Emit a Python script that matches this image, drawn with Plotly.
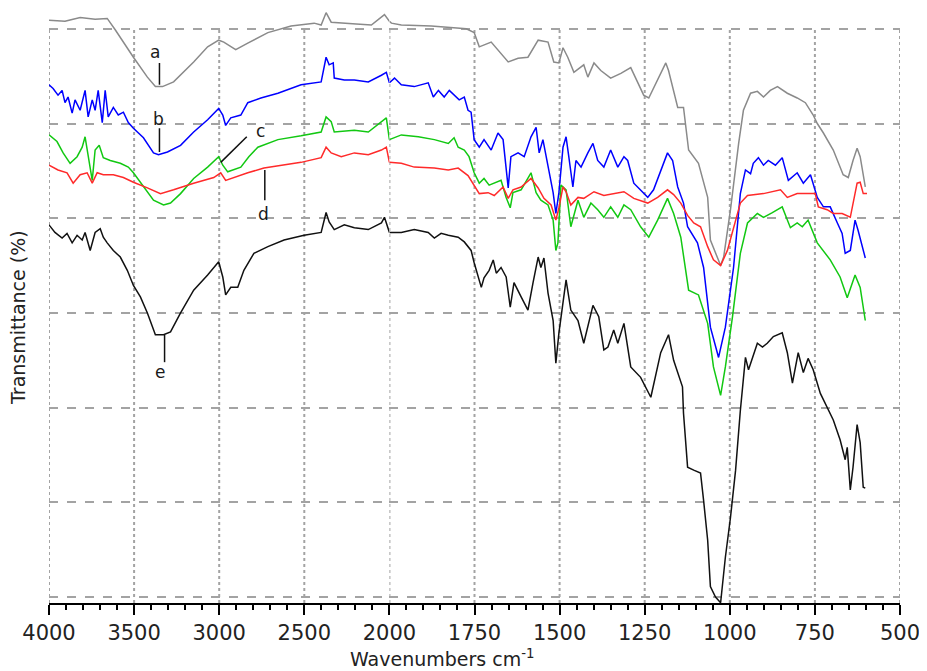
import plotly.graph_objects as go

# ---------------- data (wavenumber cm-1, transmittance in arbitrary % units) ----------------
wn_a = [4000, 3906, 3817, 3729, 3658, 3611, 3504, 3422, 3375, 3333, 3268, 3150, 3068, 3003, 2973, 2903,
        2832, 2714, 2578, 2442, 2401, 2372, 2342, 2283, 2195, 2106, 2029, 2000, 1994, 1965, 1877, 1774,
        1751, 1736, 1701, 1651, 1622, 1593, 1563, 1534, 1517, 1502, 1490, 1476, 1458, 1429, 1417, 1399,
        1379, 1350, 1320, 1291, 1253, 1238, 1209, 1188, 1180, 1153, 1136, 1121, 1092, 1065, 1057, 1036,
        1027, 1018, 998, 974, 960, 939, 919, 901, 881, 860, 831, 802, 778, 755, 743, 725, 696, 667, 652,
        638, 626, 617, 602]
t_a = [60.9, 60.8, 61.2, 61.0, 61.1, 59.9, 57.0, 54.9, 53.9, 53.9, 54.4, 56.5, 58.1, 58.8, 58.6, 57.8,
       58.5, 59.6, 60.3, 60.6, 60.4, 61.7, 60.7, 60.6, 60.5, 60.4, 61.5, 60.8, 60.6, 60.4, 60.3, 60.0,
       59.6, 58.1, 58.6, 56.5, 56.9, 57.0, 58.8, 58.6, 56.5, 56.4, 58.0, 57.0, 55.4, 56.2, 54.9, 56.4,
       55.6, 54.8, 55.3, 55.9, 53.0, 52.7, 54.9, 56.4, 55.6, 51.7, 51.7, 47.2, 45.8, 42.2, 37.7, 35.9,
       35.0, 35.9, 40.9, 47.9, 51.4, 53.2, 53.4, 52.8, 53.5, 53.9, 53.2, 52.7, 52.2, 50.9, 50.0, 49.0,
       47.2, 44.6, 44.3, 46.1, 47.4, 46.5, 43.3]

wn_b = [4000, 3976, 3947, 3923, 3906, 3888, 3864, 3847, 3817, 3788, 3770, 3746, 3729, 3711, 3687, 3670,
        3652, 3622, 3593, 3563, 3534, 3504, 3445, 3386, 3357, 3304, 3227, 3150, 3068, 3003, 2979, 2962,
        2932, 2873, 2832, 2755, 2655, 2519, 2401, 2383, 2372, 2354, 2330, 2324, 2265, 2206, 2124, 2047,
        2018, 2000, 1985, 1965, 1927, 1886, 1871, 1856, 1839, 1824, 1810, 1795, 1780, 1769, 1760, 1751,
        1736, 1722, 1701, 1681, 1666, 1651, 1643, 1622, 1604, 1584, 1569, 1560, 1549, 1534, 1519, 1511,
        1502, 1490, 1481, 1473, 1461, 1452, 1437, 1417, 1402, 1388, 1370, 1350, 1329, 1311, 1300, 1282,
        1241, 1224, 1183, 1168, 1153, 1136, 1124, 1095, 1077, 1057, 1033, 1013, 989, 969, 954, 939, 931,
        916, 901, 887, 866, 846, 828, 802, 784, 763, 743, 725, 705, 684, 670, 661, 646, 632, 623, 602]
t_b = [54.1, 53.7, 53.0, 53.5, 52.2, 52.8, 51.1, 52.5, 51.4, 53.5, 50.7, 52.5, 51.4, 53.5, 50.1, 53.5,
       50.7, 51.7, 50.9, 51.2, 50.1, 49.5, 48.5, 46.9, 46.7, 47.0, 47.7, 49.1, 50.4, 51.6, 50.9, 49.8,
       50.6, 50.9, 52.2, 52.7, 53.2, 54.1, 54.4, 55.9, 57.0, 56.2, 56.4, 54.8, 54.6, 54.6, 54.4, 55.1,
       55.4, 54.3, 54.8, 54.1, 53.9, 54.3, 52.8, 53.5, 52.8, 53.5, 53.0, 52.5, 52.8, 51.4, 51.2, 48.3,
       47.5, 48.3, 47.2, 49.0, 48.3, 43.2, 46.5, 46.9, 46.5, 48.6, 49.6, 46.9, 48.3, 45.4, 42.7, 40.5,
       42.7, 47.5, 48.6, 46.5, 43.3, 46.1, 45.4, 46.9, 47.9, 46.1, 45.4, 47.2, 45.4, 46.5, 46.1, 43.7,
       42.2, 43.0, 46.9, 46.1, 43.3, 41.6, 39.1, 37.4, 34.8, 28.5, 25.3, 28.5, 34.8, 42.6, 45.1, 44.7,
       45.8, 46.4, 45.6, 46.1, 45.6, 46.4, 44.0, 44.8, 43.7, 44.6, 42.2, 41.2, 41.2, 39.5, 38.4, 36.3,
       36.6, 39.8, 38.7, 35.8]

wn_c = [4000, 3953, 3917, 3876, 3835, 3805, 3788, 3770, 3746, 3729, 3705, 3681, 3640, 3581, 3534, 3504,
        3445, 3386, 3327, 3286, 3227, 3150, 3068, 3003, 2979, 2950, 2873, 2826, 2773, 2655, 2519, 2401,
        2372, 2342, 2324, 2206, 2124, 2047, 2018, 2000, 1965, 1915, 1868, 1827, 1810, 1798, 1780, 1766,
        1751, 1736, 1722, 1707, 1686, 1672, 1657, 1645, 1637, 1613, 1584, 1569, 1555, 1534, 1519, 1511,
        1505, 1496, 1481, 1467, 1446, 1429, 1408, 1388, 1370, 1350, 1329, 1311, 1291, 1262, 1238, 1212,
        1183, 1165, 1144, 1121, 1092, 1065, 1048, 1027, 1013, 992, 969, 948, 919, 901, 875, 846, 822,
        802, 787, 770, 743, 705, 676, 655, 632, 617, 602]
t_c = [48.8, 48.1, 46.9, 45.8, 46.5, 47.5, 48.6, 46.5, 44.0, 47.2, 47.7, 46.4, 46.1, 45.8, 45.4, 44.8,
       43.3, 41.9, 41.4, 41.6, 42.6, 44.2, 45.4, 46.5, 45.6, 44.9, 45.4, 46.5, 47.5, 48.3, 48.7, 49.1,
       50.7, 50.2, 49.1, 49.3, 49.1, 50.2, 50.6, 48.3, 48.8, 48.6, 48.3, 47.9, 48.5, 47.5, 47.2, 46.5,
       44.8, 43.7, 44.2, 43.5, 43.8, 44.0, 42.2, 41.1, 42.7, 43.0, 44.8, 42.7, 41.9, 41.4, 39.8, 36.6,
       37.4, 43.5, 43.0, 39.1, 41.9, 40.1, 41.6, 40.9, 40.1, 41.2, 40.1, 41.4, 40.9, 39.1, 38.0, 39.8,
       42.1, 40.5, 38.0, 32.4, 31.9, 28.9, 24.3, 21.3, 24.3, 29.6, 36.3, 39.5, 40.5, 40.1, 40.6, 41.2, 39.0,
       39.5, 39.1, 39.8, 37.4, 35.6, 33.8, 31.6, 34.0, 32.7, 29.2]

wn_d = [4000, 3947, 3894, 3858, 3817, 3776, 3746, 3717, 3681, 3622, 3563, 3504, 3422, 3345, 3268, 3150,
        3032, 2991, 2962, 2914, 2832, 2737, 2619, 2519, 2401, 2372, 2342, 2283, 2206, 2124, 2047, 2018,
        2000, 1965, 1927, 1868, 1827, 1798, 1769, 1751, 1736, 1710, 1692, 1666, 1651, 1637, 1613, 1584,
        1563, 1546, 1525, 1511, 1502, 1490, 1481, 1467, 1446, 1429, 1399, 1370, 1341, 1311, 1282, 1241,
        1212, 1183, 1165, 1144, 1124, 1106, 1086, 1065, 1048, 1027, 1007, 989, 969, 948, 901, 851, 831,
        802, 772, 749, 740, 714, 696, 670, 646, 638, 626, 617, 608, 597]
t_d = [45.6, 45.1, 44.8, 43.7, 44.6, 44.8, 43.7, 44.8, 44.6, 44.6, 44.3, 43.8, 43.2, 42.6, 43.0, 43.7,
       44.3, 44.8, 44.0, 44.3, 44.8, 45.3, 45.6, 45.9, 46.4, 47.5, 46.9, 46.5, 46.9, 46.7, 47.2, 47.5,
       45.9, 45.8, 45.4, 45.3, 45.1, 45.3, 44.5, 43.5, 42.6, 42.7, 42.4, 43.3, 42.1, 43.0, 43.3, 44.2,
       43.2, 42.1, 41.4, 39.8, 41.1, 43.3, 42.8, 41.4, 42.2, 42.1, 42.8, 42.4, 42.6, 42.8, 42.1, 41.6,
       42.2, 43.0, 42.5, 41.6, 40.3, 39.5, 39.1, 37.0, 35.6, 35.0, 36.6, 39.1, 41.6, 42.4, 42.6, 43.0, 42.2,
       42.6, 42.6, 42.6, 41.2, 40.9, 40.5, 40.5, 40.1, 41.6, 43.7, 43.8, 42.6, 42.6]

wn_e = [4000, 3965, 3923, 3894, 3864, 3835, 3805, 3788, 3758, 3729, 3699, 3681, 3658, 3622, 3581, 3540,
        3504, 3463, 3422, 3375, 3327, 3286, 3227, 3150, 3068, 3003, 2979, 2962, 2932, 2891, 2855, 2796,
        2714, 2619, 2501, 2401, 2372, 2354, 2324, 2265, 2206, 2124, 2047, 2029, 2000, 1965, 1927, 1886,
        1868, 1848, 1827, 1798, 1780, 1760, 1751, 1739, 1730, 1722, 1707, 1695, 1686, 1672, 1657, 1645,
        1634, 1613, 1593, 1578, 1563, 1555, 1546, 1534, 1519, 1511, 1502, 1481, 1467, 1446, 1429, 1402,
        1385, 1370, 1358, 1341, 1329, 1311, 1291, 1262, 1232, 1203, 1180, 1165, 1139, 1136, 1124, 1106,
        1086, 1077, 1065, 1057, 1042, 1027, 1013, 998, 983, 969, 954, 945, 919, 904, 890, 872, 846, 831,
        816, 799, 784, 770, 755, 734, 725, 696, 676, 661, 655, 646, 638, 626, 617, 608, 602]
t_e = [39.3, 38.5, 37.9, 38.4, 37.4, 38.2, 37.7, 38.5, 36.6, 38.5, 38.9, 38.0, 37.4, 36.6, 35.9, 34.5,
       32.9, 31.7, 30.0, 27.7, 27.7, 28.0, 30.0, 32.4, 34.0, 35.4, 33.8, 31.9, 32.7, 32.7, 34.5, 36.3,
       37.0, 37.7, 38.2, 38.5, 40.6, 39.6, 38.8, 39.3, 39.0, 38.8, 39.5, 40.1, 38.5, 38.5, 38.8, 38.5,
       37.9, 38.4, 38.2, 38.0, 37.5, 36.6, 35.3, 33.8, 32.7, 33.7, 34.5, 35.6, 34.2, 34.8, 33.8, 30.6,
       33.2, 31.7, 30.3, 33.2, 35.9, 34.8, 35.8, 32.1, 29.2, 24.7, 27.9, 33.5, 30.3, 29.2, 26.8, 30.8,
       29.6, 26.1, 26.4, 28.2, 26.8, 28.9, 24.3, 23.2, 21.1, 25.8, 27.7, 25.0, 22.2, 19.4, 13.7, 13.4,
       13.1, 10.2, 6.0, 1.1, 0.0, -0.6, 4.2, 8.4, 13.4, 19.7, 25.3, 24.0, 26.8, 26.4, 26.8, 27.5, 27.9, 25.8,
       22.6, 25.8, 23.7, 25.2, 24.0, 21.5, 20.8, 18.7, 16.6, 14.5, 15.8, 11.3, 13.7, 18.2, 16.3, 11.6, 11.5]

series_names = ["a", "b", "c", "d", "e"]
series_colors = ["#8a8a8a", "#0000ff", "#12c812", "#ff2a2a", "#111111"]

major_left = [4000, 3500, 3000, 2500]
major_right = [2000, 1750, 1500, 1250, 1000, 750, 500]

# curve labels: (label, text wavenumber, text value, line x0, y0, x1, y1)
labels = [
    ("a", 3375, 57.6, 3351, 56.4, 3351, 54.1),
    ("b", 3357, 50.5, 3351, 49.5, 3351, 47.0),
    ("c", 2755, 49.2, 2838, 48.6, 2991, 45.9),
    ("d", 2737, 40.4, 2732, 45.1, 2732, 41.9),
    ("e", 3345, 23.8, 3321, 27.7, 3321, 24.8),
]

# ---------------- figure ----------------
BREAK = 2000
fig = go.Figure()
for name, color, wn, tv in zip(series_names, series_colors,
                               [wn_a, wn_b, wn_c, wn_d, wn_e], [t_a, t_b, t_c, t_d, t_e]):
    left = [(w, v) for w, v in zip(wn, tv) if w >= BREAK]
    right = [(w, v) for w, v in zip(wn, tv) if w <= BREAK]
    fig.add_trace(go.Scatter(x=[p[0] for p in left], y=[p[1] for p in left], mode="lines",
                             line=dict(color=color, width=1.5), xaxis="x", yaxis="y",
                             name=name, showlegend=False))
    fig.add_trace(go.Scatter(x=[p[0] for p in right], y=[p[1] for p in right], mode="lines",
                             line=dict(color=color, width=1.5), xaxis="x2", yaxis="y",
                             name=name, showlegend=False))

grid_color = "#a3a3a3"
Y_TOP = 60
Y_BOT = -0.63

shapes = []
for w in major_left:
    shapes.append(dict(type="line", xref="x", yref="y", x0=w, x1=w, y0=Y_BOT, y1=Y_TOP,
                       line=dict(color=grid_color, width=2, dash="dot"), layer="below"))
for w in major_right:
    shapes.append(dict(type="line", xref="x2", yref="y", x0=w, x1=w, y0=Y_BOT, y1=Y_TOP,
                       line=dict(color=grid_color, width=2, dash="dot"), layer="below"))

annotations = []
for lab, tx, ty, x0, y0, x1, y1 in labels:
    shapes.append(dict(type="line", xref="x", yref="y", x0=x0, x1=x1, y0=y0, y1=y1,
                       line=dict(color="#111111", width=1.5)))
    annotations.append(dict(text=lab, x=tx, y=ty, xref="x", yref="y", showarrow=False,
                            font=dict(family="DejaVu Sans", size=17, color="#1a1a1a"),
                            xanchor="center", yanchor="middle"))

annotations.append(dict(text="Wavenumbers cm<sup>-1</sup>", xref="paper", yref="paper",
                        x=0.462, y=0, yshift=-55, showarrow=False, xanchor="center", yanchor="middle",
                        font=dict(family="DejaVu Sans", size=19, color="#222222")))
annotations.append(dict(text="Transmittance (%)", xref="paper", yref="paper",
                        x=0, xshift=-31, y=0.479, textangle=-90, showarrow=False,
                        xanchor="center", yanchor="middle",
                        font=dict(family="DejaVu Sans", size=19, color="#222222")))

axis_common = dict(showline=True, linecolor="black", linewidth=2, ticks="outside", ticklen=10,
                   tickwidth=2, tickcolor="black", showgrid=False, zeroline=False,
                   tickfont=dict(family="DejaVu Sans", size=21, color="#222222"), anchor="y")

# the page body adds an 8px offset, so the figure is sized to fit the window
fig.update_layout(
    width=919, height=663,
    margin=dict(l=41, r=27, t=0, b=68),
    paper_bgcolor="white", plot_bgcolor="white",
    xaxis=dict(domain=[0, 0.4], range=[4000, 2000], tickmode="array", tickvals=major_left,
               ticktext=[str(v) for v in major_left],
               minor=dict(tickmode="linear", tick0=0, dtick=100, ticks="outside", ticklen=5,
                          tickwidth=1.5, tickcolor="black"),
               **axis_common),
    xaxis2=dict(domain=[0.4, 1], range=[2000, 500], tickmode="array", tickvals=major_right,
                ticktext=[str(v) for v in major_right],
                minor=dict(tickmode="linear", tick0=0, dtick=50, ticks="outside", ticklen=5,
                           tickwidth=1.5, tickcolor="black"),
                **axis_common),
    yaxis=dict(range=[Y_BOT, 62.2], showticklabels=False, ticks="", showgrid=True,
               gridcolor=grid_color, gridwidth=1.5, griddash="dash", tick0=0, dtick=10,
               zeroline=False, showline=False),
    shapes=shapes,
    annotations=annotations,
)

fig.write_html("out.html")
